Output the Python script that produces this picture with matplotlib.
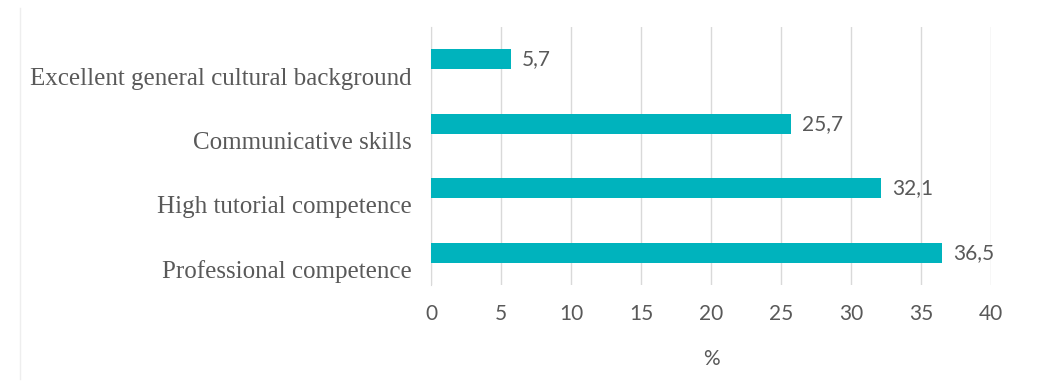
import matplotlib.pyplot as plt

categories = ['Professional competence', 'High tutorial competence',
              'Communicative skills', 'Excellent general cultural background']
values = [36.5, 32.1, 25.7, 5.7]
value_labels = ['36,5', '32,1', '25,7', '5,7']
xticks = [0, 5, 10, 15, 20, 25, 30, 35, 40]

grey = '#595959'
teal = '#00b3bd'
num_font = dict(family='Lato', weight='normal')

fig = plt.figure(figsize=(10.59, 3.87), dpi=100)
ax = fig.add_axes([0.407, 0.264, 0.529, 0.666])

ypos = list(range(len(categories)))
ax.barh(ypos, values, height=0.31, color=teal, zorder=3)

for y, v, lab in zip(ypos, values, value_labels):
    ax.annotate(lab, (v, y), xytext=(8, 0), textcoords='offset points',
                va='center', ha='left', fontsize=15, color=grey, **num_font)

ax.set_xlim(0, 40)
ax.set_ylim(-0.5, len(categories) - 0.5)
ax.set_xticks(xticks)
ax.set_xticklabels([str(t) for t in xticks], fontsize=15, color=grey, **num_font)
# category labels sit a little below the bars in the original
ax.set_yticks([y - 0.26 for y in ypos])
ax.set_yticklabels(categories, fontsize=18, color=grey, family='Liberation Serif')

ax.tick_params(axis='both', length=0)
ax.tick_params(axis='x', pad=14)
ax.tick_params(axis='y', pad=14)
ax.grid(axis='x', color='#d9d9d9', linewidth=1, zorder=0)
ax.grid(axis='y', visible=False)
for s in ['top', 'right', 'bottom']:
    ax.spines[s].set_visible(False)
ax.spines['left'].set_color('#d9d9d9')

ax.set_xlabel('%', fontsize=15, color=grey, labelpad=18, **num_font)

# faint outer border on the left
fig.add_artist(plt.Line2D([0.019, 0.019], [0.02, 0.98], color='#eeeeee', lw=1))

fig.savefig('out.png', dpi=100, facecolor='white')
